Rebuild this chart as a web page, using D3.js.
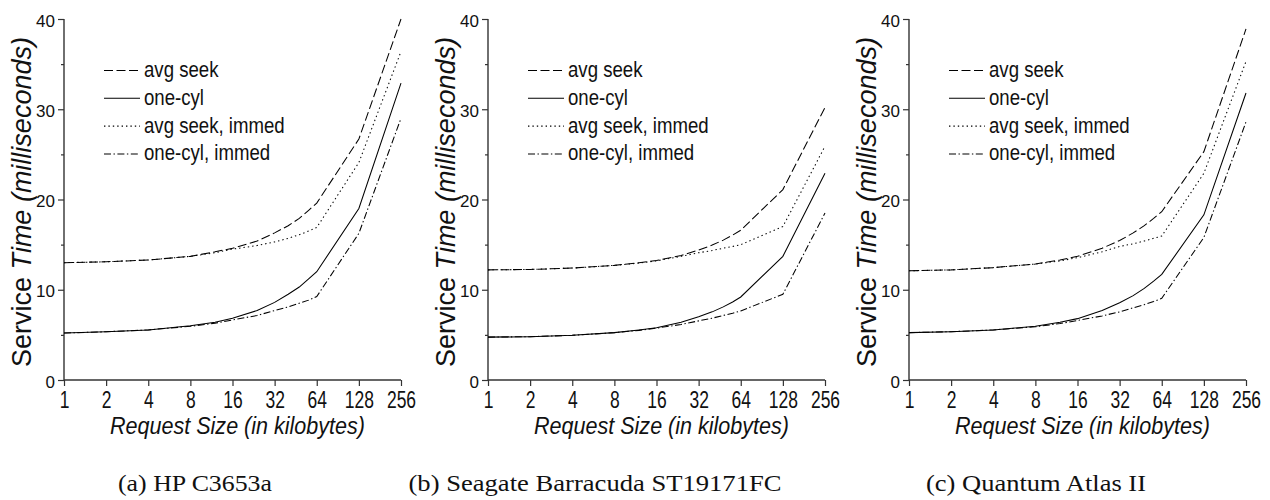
<!DOCTYPE html>
<html><head><meta charset="utf-8">
<script src="https://cdn.jsdelivr.net/npm/d3@7"></script>
<style>
html,body{margin:0;padding:0;background:#fff;}
svg{display:block;}
</style></head>
<body>
<svg id="chart" width="1270" height="500"></svg>
<script>
// ---------------- data ----------------
const sizes = [1, 2, 4, 8, 12, 16, 24, 32, 40, 48, 56, 64, 128, 256];
const xTicks = [1, 2, 4, 8, 16, 32, 64, 128, 256];
const yTicks = [0, 10, 20, 30, 40];
const yMinorTicks = [5, 15, 25, 35];
const seriesNames = ["avg seek", "one-cyl", "avg seek, immed", "one-cyl, immed"];
const captions = ["(a) HP C3653a", "(b) Seagate Barracuda ST19171FC", "(c) Quantum Atlas II"];
const xTitle = "Request Size (in kilobytes)";

// (a) HP C3653a
const hpAvgSeek      = [13.0, 13.1, 13.3, 13.7, 14.2, 14.6, 15.4, 16.3, 17.1, 17.9, 18.8, 19.6, 26.7, 40.0];
const hpOneCyl       = [5.2, 5.35, 5.55, 6.0, 6.4, 6.85, 7.7, 8.6, 9.5, 10.3, 11.2, 12.0, 19.0, 32.9];
const hpAvgSeekImmed = [13.0, 13.1, 13.3, 13.7, 14.1, 14.5, 14.9, 15.3, 15.7, 16.1, 16.5, 16.9, 24.1, 36.4];
const hpOneCylImmed  = [5.2, 5.35, 5.55, 5.95, 6.3, 6.65, 7.15, 7.7, 8.1, 8.5, 8.85, 9.25, 16.25, 29.0];

// (b) Seagate Barracuda ST19171FC
const sgAvgSeek      = [12.2, 12.25, 12.4, 12.7, 13.0, 13.25, 13.8, 14.4, 14.95, 15.5, 16.05, 16.6, 21.1, 30.2];
const sgOneCyl       = [4.75, 4.8, 4.95, 5.25, 5.55, 5.8, 6.4, 7.0, 7.55, 8.1, 8.65, 9.2, 13.7, 22.9];
const sgAvgSeekImmed = [12.2, 12.25, 12.4, 12.7, 12.95, 13.2, 13.7, 14.1, 14.35, 14.6, 14.8, 15.0, 17.0, 25.9];
const sgOneCylImmed  = [4.75, 4.8, 4.95, 5.25, 5.5, 5.75, 6.15, 6.55, 6.85, 7.15, 7.4, 7.65, 9.5, 18.5];

// (c) Quantum Atlas II
const qaAvgSeek      = [12.1, 12.2, 12.45, 12.85, 13.3, 13.7, 14.6, 15.45, 16.3, 17.1, 17.9, 18.65, 25.3, 38.9];
const qaOneCyl       = [5.25, 5.35, 5.55, 5.95, 6.4, 6.8, 7.7, 8.55, 9.35, 10.15, 10.95, 11.7, 18.3, 31.8];
const qaAvgSeekImmed = [12.1, 12.2, 12.45, 12.85, 13.2, 13.55, 14.2, 14.8, 15.1, 15.4, 15.7, 15.95, 22.9, 35.3];
const qaOneCylImmed  = [5.25, 5.35, 5.55, 5.9, 6.25, 6.6, 7.1, 7.55, 8.0, 8.35, 8.7, 9.05, 15.8, 28.6];

const panels = [
  {series: [hpAvgSeek, hpOneCyl, hpAvgSeekImmed, hpOneCylImmed], caption: captions[0]},
  {series: [sgAvgSeek, sgOneCyl, sgAvgSeekImmed, sgOneCylImmed], caption: captions[1]},
  {series: [qaAvgSeek, qaOneCyl, qaAvgSeekImmed, qaOneCylImmed], caption: captions[2]}
];

// ---------------- layout / style ----------------
const panelLeft = [64, 488, 909];
const plotW = 337;
const yTop = 19, yBottom = 380;
const captionX = [195, 595, 1036];
const captionW = [154, 373, 220];
const dashes = ["9,3.5", null, "1.4,3", "7,2.5,1.4,2.5"];
const sans = "'Liberation Sans', Arial, Helvetica, sans-serif";
const serif = "'Liberation Serif', 'Times New Roman', Times, serif";

const svg = d3.select("#chart");

// squeeze text horizontally to a fraction of its natural width
function squeeze(sel, factor) {
  sel.each(function () {
    const w = this.getComputedTextLength();
    d3.select(this).attr("textLength", w * factor).attr("lengthAdjust", "spacingAndGlyphs");
  });
}

panels.forEach((p, pi) => {
  const left = panelLeft[pi];
  const x = d3.scaleLog().base(2).domain([1, 256]).range([left, left + plotW]);
  const y = d3.scaleLinear().domain([0, 40]).range([yBottom, yTop]);
  const g = svg.append("g");

  // Y axis
  const yAxis = d3.axisLeft(y).tickValues(yTicks).tickSize(6).tickPadding(3).tickFormat(d3.format("d"));
  const ya = g.append("g").attr("transform", `translate(${left},0)`).call(yAxis);
  ya.select(".domain").attr("d", `M0,${yTop}V${yBottom}`);
  const yMinor = d3.axisLeft(y).tickValues(yMinorTicks).tickSize(3).tickFormat("");
  const ym = g.append("g").attr("transform", `translate(${left},0)`).call(yMinor);
  ym.select(".domain").remove();

  // X axis
  const xAxis = d3.axisBottom(x).tickValues(xTicks).tickSize(6).tickPadding(3).tickFormat(d3.format("d"));
  const xa = g.append("g").attr("transform", `translate(0,${yBottom})`).call(xAxis);
  xa.select(".domain").attr("d", `M${left},0H${left + plotW}`);

  [ya, ym, xa].forEach(a => {
    a.selectAll(".domain").attr("stroke", "#333").attr("stroke-width", 1.4);
    a.selectAll(".tick line").attr("stroke", "#333").attr("stroke-width", 1.2);
    a.selectAll("text").attr("fill", "#111").style("font-family", sans);
  });
  ya.selectAll(".tick text").style("font-size", "17px").attr("dy", "0.42em");
  const xt = xa.selectAll(".tick text").style("font-size", "23px").attr("y", 27.5).attr("dy", 0);
  squeeze(xt, 0.76);

  // lines
  const line = d3.line().x((d, i) => x(sizes[i])).y(d => y(d));
  p.series.forEach((vals, si) => {
    g.append("path")
      .attr("d", line(vals))
      .attr("fill", "none")
      .attr("stroke", "#000")
      .attr("stroke-width", 1.05)
      .attr("stroke-dasharray", dashes[si]);
  });

  // legend
  seriesNames.forEach((name, si) => {
    const by = 77 + si * 27.8;
    g.append("line")
      .attr("x1", left + 40).attr("x2", left + 76)
      .attr("y1", by - 6.5).attr("y2", by - 6.5)
      .attr("stroke", "#000").attr("stroke-width", 1.05)
      .attr("stroke-dasharray", dashes[si]);
    const t = g.append("text")
      .attr("x", left + 80).attr("y", by)
      .style("font-family", sans).style("font-size", "21.5px")
      .attr("fill", "#111")
      .text(name);
    squeeze(t, 0.865);
  });

  // y title
  const yt = g.append("text")
    .attr("transform", `translate(${left - 33},202) rotate(-90)`)
    .attr("text-anchor", "middle")
    .style("font-family", sans).style("font-size", "27px")
    .attr("fill", "#111");
  yt.append("tspan").text("Service ");
  yt.append("tspan").style("font-style", "italic").text("Time (milliseconds)");

  // x title
  g.append("text")
    .attr("x", left + plotW / 2 + 5).attr("y", 434)
    .attr("text-anchor", "middle")
    .style("font-family", sans).style("font-size", "23px").style("font-style", "italic")
    .attr("fill", "#111")
    .attr("textLength", 255).attr("lengthAdjust", "spacingAndGlyphs")
    .text(xTitle);

  // caption
  g.append("text")
    .attr("x", captionX[pi]).attr("y", 491)
    .attr("text-anchor", "middle")
    .style("font-family", serif).style("font-size", "23px")
    .attr("fill", "#111")
    .attr("textLength", captionW[pi]).attr("lengthAdjust", "spacingAndGlyphs")
    .text(p.caption);
});
</script>
</body></html>
